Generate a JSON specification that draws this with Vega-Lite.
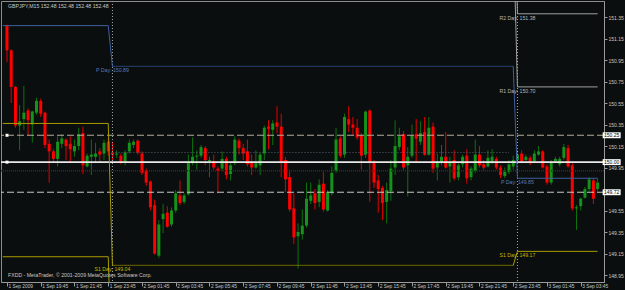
{
"$schema":"https://vega.github.io/schema/vega-lite/v6.json",
"width":603,"height":281,
"autosize":{"type":"none"},
"padding":{"left":1,"top":1,"right":21,"bottom":8},
"background":"#0a0e0e",
"resolve":{"axis":{"x":"independent","y":"independent"}},
"config":{"view":{"stroke":"#8c8c8c","strokeWidth":1},"font":"Liberation Sans","text":{"font":"Liberation Sans"},
 "axis":{"grid":false,"labelFont":"Liberation Sans","labelColor":"#c8c8c8","tickColor":"#9a9a9a","domainColor":"#9a9a9a","labelOverlap":false,"labelFlush":false},
 "axisX":{"labelAlign":"left","labelBaseline":"top","labelFontSize":4.8,"tickSize":4,"labelPadding":-3,"labelOffset":1},
 "axisY":{"labelFontSize":5,"tickSize":3,"labelPadding":1}},
"datasets":{
"candles":[
{"t":"2009-09-01T17:45","o":151.27,"h":151.28,"l":150.93,"c":151.04},
{"t":"2009-09-01T18:00","o":151.04,"h":151.05,"l":150.55,"c":150.70},
{"t":"2009-09-01T18:15","o":150.70,"h":150.71,"l":150.32,"c":150.34},
{"t":"2009-09-01T18:30","o":150.34,"h":150.53,"l":150.11,"c":150.38},
{"t":"2009-09-01T18:45","o":150.40,"h":150.71,"l":150.30,"c":150.46},
{"t":"2009-09-01T19:00","o":150.48,"h":150.50,"l":150.25,"c":150.39},
{"t":"2009-09-01T19:15","o":150.35,"h":150.48,"l":150.18,"c":150.47},
{"t":"2009-09-01T19:30","o":150.46,"h":150.60,"l":150.44,"c":150.57},
{"t":"2009-09-01T19:45","o":150.57,"h":150.59,"l":150.42,"c":150.45},
{"t":"2009-09-01T20:00","o":150.46,"h":150.47,"l":150.13,"c":150.16},
{"t":"2009-09-01T20:15","o":150.17,"h":150.21,"l":149.81,"c":150.10},
{"t":"2009-09-01T20:30","o":150.10,"h":150.12,"l":150.00,"c":150.03},
{"t":"2009-09-01T20:45","o":150.03,"h":150.24,"l":149.96,"c":150.19},
{"t":"2009-09-01T21:00","o":150.17,"h":150.26,"l":150.13,"c":150.22},
{"t":"2009-09-01T21:15","o":150.21,"h":150.22,"l":150.02,"c":150.15},
{"t":"2009-09-01T21:30","o":150.17,"h":150.24,"l":150.00,"c":150.12},
{"t":"2009-09-01T21:45","o":150.10,"h":150.21,"l":150.05,"c":150.15},
{"t":"2009-09-01T22:00","o":150.15,"h":150.32,"l":150.11,"c":150.26},
{"t":"2009-09-01T22:15","o":150.27,"h":150.33,"l":149.89,"c":149.97},
{"t":"2009-09-01T22:30","o":149.96,"h":150.08,"l":149.95,"c":150.06},
{"t":"2009-09-01T22:45","o":150.05,"h":150.21,"l":149.88,"c":150.07},
{"t":"2009-09-01T23:00","o":150.05,"h":150.18,"l":149.99,"c":150.08},
{"t":"2009-09-01T23:15","o":150.10,"h":150.13,"l":150.00,"c":150.07},
{"t":"2009-09-01T23:30","o":150.08,"h":150.21,"l":150.02,"c":150.18},
{"t":"2009-09-01T23:45","o":150.19,"h":150.22,"l":150.06,"c":150.10},
{"t":"2009-09-02T00:00","o":150.09,"h":150.19,"l":150.02,"c":150.07},
{"t":"2009-09-02T00:15","o":150.07,"h":150.11,"l":150.04,"c":150.08},
{"t":"2009-09-02T00:30","o":150.06,"h":150.08,"l":149.98,"c":150.00},
{"t":"2009-09-02T00:45","o":150.00,"h":150.11,"l":149.97,"c":150.09},
{"t":"2009-09-02T01:00","o":150.10,"h":150.21,"l":150.08,"c":150.18},
{"t":"2009-09-02T01:15","o":150.16,"h":150.21,"l":150.13,"c":150.19},
{"t":"2009-09-02T01:30","o":150.20,"h":150.21,"l":150.07,"c":150.09},
{"t":"2009-09-02T01:45","o":150.08,"h":150.10,"l":149.88,"c":149.90},
{"t":"2009-09-02T02:00","o":149.92,"h":149.94,"l":149.78,"c":149.81},
{"t":"2009-09-02T02:15","o":149.82,"h":149.83,"l":149.55,"c":149.58},
{"t":"2009-09-02T02:30","o":149.60,"h":149.65,"l":149.14,"c":149.15},
{"t":"2009-09-02T02:45","o":149.13,"h":149.46,"l":149.11,"c":149.42},
{"t":"2009-09-02T03:00","o":149.47,"h":149.61,"l":149.34,"c":149.52},
{"t":"2009-09-02T03:15","o":149.53,"h":149.59,"l":149.39,"c":149.40},
{"t":"2009-09-02T03:30","o":149.42,"h":149.58,"l":149.40,"c":149.55},
{"t":"2009-09-02T03:45","o":149.55,"h":149.74,"l":149.53,"c":149.71},
{"t":"2009-09-02T04:00","o":149.69,"h":149.83,"l":149.60,"c":149.62},
{"t":"2009-09-02T04:15","o":149.63,"h":149.71,"l":149.61,"c":149.69},
{"t":"2009-09-02T04:30","o":149.70,"h":150.07,"l":149.69,"c":149.99},
{"t":"2009-09-02T04:45","o":149.99,"h":150.23,"l":149.97,"c":150.05},
{"t":"2009-09-02T05:00","o":150.05,"h":150.11,"l":149.93,"c":150.06},
{"t":"2009-09-02T05:15","o":150.06,"h":150.16,"l":150.04,"c":150.14},
{"t":"2009-09-02T05:30","o":150.13,"h":150.15,"l":149.97,"c":150.02},
{"t":"2009-09-02T05:45","o":150.01,"h":150.05,"l":149.86,"c":150.02},
{"t":"2009-09-02T06:00","o":150.01,"h":150.07,"l":149.93,"c":149.95},
{"t":"2009-09-02T06:15","o":149.94,"h":149.96,"l":149.71,"c":149.92},
{"t":"2009-09-02T06:30","o":149.94,"h":150.10,"l":149.92,"c":150.03},
{"t":"2009-09-02T06:45","o":150.03,"h":150.05,"l":149.84,"c":149.88},
{"t":"2009-09-02T07:00","o":149.89,"h":149.99,"l":149.83,"c":149.97},
{"t":"2009-09-02T07:15","o":149.99,"h":150.24,"l":149.97,"c":150.21},
{"t":"2009-09-02T07:30","o":150.20,"h":150.22,"l":150.07,"c":150.13},
{"t":"2009-09-02T07:45","o":150.13,"h":150.17,"l":150.02,"c":150.08},
{"t":"2009-09-02T08:00","o":150.10,"h":150.21,"l":149.96,"c":149.98},
{"t":"2009-09-02T08:15","o":150.00,"h":150.07,"l":149.88,"c":149.95},
{"t":"2009-09-02T08:30","o":149.95,"h":150.11,"l":149.94,"c":149.99},
{"t":"2009-09-02T08:45","o":149.97,"h":150.09,"l":149.88,"c":150.07},
{"t":"2009-09-02T09:00","o":150.08,"h":150.34,"l":150.02,"c":150.32},
{"t":"2009-09-02T09:15","o":150.33,"h":150.39,"l":150.12,"c":150.31},
{"t":"2009-09-02T09:30","o":150.30,"h":150.39,"l":150.16,"c":150.36},
{"t":"2009-09-02T09:45","o":150.37,"h":150.52,"l":150.27,"c":150.33},
{"t":"2009-09-02T10:00","o":150.33,"h":150.45,"l":149.86,"c":150.00},
{"t":"2009-09-02T10:15","o":150.02,"h":150.05,"l":149.72,"c":149.84},
{"t":"2009-09-02T10:30","o":149.86,"h":149.93,"l":149.54,"c":149.56},
{"t":"2009-09-02T10:45","o":149.57,"h":149.71,"l":149.24,"c":149.30},
{"t":"2009-09-02T11:00","o":149.31,"h":149.43,"l":149.01,"c":149.35},
{"t":"2009-09-02T11:15","o":149.33,"h":149.56,"l":149.28,"c":149.41},
{"t":"2009-09-02T11:30","o":149.41,"h":149.81,"l":149.39,"c":149.66},
{"t":"2009-09-02T11:45","o":149.64,"h":149.81,"l":149.61,"c":149.69},
{"t":"2009-09-02T12:00","o":149.71,"h":149.75,"l":149.56,"c":149.62},
{"t":"2009-09-02T12:15","o":149.63,"h":149.84,"l":149.58,"c":149.79},
{"t":"2009-09-02T12:30","o":149.80,"h":149.91,"l":149.54,"c":149.56},
{"t":"2009-09-02T12:45","o":149.55,"h":149.74,"l":149.54,"c":149.72},
{"t":"2009-09-02T13:00","o":149.71,"h":149.96,"l":149.69,"c":149.90},
{"t":"2009-09-02T13:15","o":149.92,"h":150.32,"l":149.90,"c":150.21},
{"t":"2009-09-02T13:30","o":150.22,"h":150.24,"l":150.04,"c":150.06},
{"t":"2009-09-02T13:45","o":150.07,"h":150.45,"l":150.04,"c":150.42},
{"t":"2009-09-02T14:00","o":150.40,"h":150.52,"l":150.28,"c":150.35},
{"t":"2009-09-02T14:15","o":150.35,"h":150.42,"l":150.25,"c":150.32},
{"t":"2009-09-02T14:30","o":150.32,"h":150.40,"l":150.21,"c":150.23},
{"t":"2009-09-02T14:45","o":150.25,"h":150.27,"l":149.93,"c":150.06},
{"t":"2009-09-02T15:00","o":150.07,"h":150.48,"l":150.04,"c":150.47},
{"t":"2009-09-02T15:15","o":150.48,"h":150.49,"l":149.63,"c":150.00},
{"t":"2009-09-02T15:30","o":150.00,"h":150.02,"l":149.76,"c":149.81},
{"t":"2009-09-02T15:45","o":149.83,"h":149.88,"l":149.53,"c":149.75},
{"t":"2009-09-02T16:00","o":149.76,"h":149.78,"l":149.46,"c":149.62},
{"t":"2009-09-02T16:15","o":149.63,"h":149.81,"l":149.43,"c":149.74},
{"t":"2009-09-02T16:30","o":149.73,"h":150.02,"l":149.64,"c":149.94},
{"t":"2009-09-02T16:45","o":149.95,"h":150.39,"l":149.88,"c":150.15},
{"t":"2009-09-02T17:00","o":150.14,"h":150.32,"l":150.11,"c":150.24},
{"t":"2009-09-02T17:15","o":150.26,"h":150.29,"l":149.93,"c":149.95},
{"t":"2009-09-02T17:30","o":149.97,"h":150.14,"l":149.68,"c":150.05},
{"t":"2009-09-02T17:45","o":150.06,"h":150.35,"l":150.04,"c":150.25},
{"t":"2009-09-02T18:00","o":150.26,"h":150.40,"l":150.00,"c":150.22},
{"t":"2009-09-02T18:15","o":150.19,"h":150.38,"l":150.16,"c":150.27},
{"t":"2009-09-02T18:30","o":150.28,"h":150.42,"l":150.06,"c":150.07},
{"t":"2009-09-02T18:45","o":150.07,"h":150.42,"l":150.06,"c":150.32},
{"t":"2009-09-02T19:00","o":150.33,"h":150.37,"l":149.90,"c":149.94},
{"t":"2009-09-02T19:15","o":149.95,"h":150.08,"l":149.83,"c":150.01},
{"t":"2009-09-02T19:30","o":150.00,"h":150.16,"l":149.97,"c":150.05},
{"t":"2009-09-02T19:45","o":150.05,"h":150.28,"l":149.94,"c":149.95},
{"t":"2009-09-02T20:00","o":149.96,"h":150.05,"l":149.81,"c":150.00},
{"t":"2009-09-02T20:15","o":150.02,"h":150.11,"l":149.83,"c":149.85},
{"t":"2009-09-02T20:30","o":149.86,"h":149.99,"l":149.83,"c":149.97},
{"t":"2009-09-02T20:45","o":149.98,"h":150.07,"l":149.95,"c":150.05},
{"t":"2009-09-02T21:00","o":150.06,"h":150.12,"l":149.80,"c":149.85},
{"t":"2009-09-02T21:15","o":149.86,"h":149.96,"l":149.83,"c":149.94},
{"t":"2009-09-02T21:30","o":149.92,"h":150.21,"l":149.90,"c":150.07},
{"t":"2009-09-02T21:45","o":150.07,"h":150.15,"l":149.95,"c":149.97},
{"t":"2009-09-02T22:00","o":149.98,"h":150.02,"l":149.93,"c":149.95},
{"t":"2009-09-02T22:15","o":149.96,"h":150.11,"l":149.95,"c":150.04},
{"t":"2009-09-02T22:30","o":150.00,"h":150.12,"l":149.98,"c":150.05},
{"t":"2009-09-02T22:45","o":150.03,"h":150.05,"l":149.93,"c":149.95},
{"t":"2009-09-02T23:00","o":149.95,"h":149.97,"l":149.85,"c":149.88},
{"t":"2009-09-02T23:15","o":149.87,"h":149.95,"l":149.85,"c":149.91},
{"t":"2009-09-02T23:30","o":149.91,"h":150.02,"l":149.89,"c":149.98},
{"t":"2009-09-02T23:45","o":149.96,"h":150.06,"l":149.93,"c":150.02},
{"t":"2009-09-03T00:00","o":150.02,"h":150.11,"l":150.00,"c":150.07},
{"t":"2009-09-03T00:15","o":150.08,"h":150.11,"l":149.99,"c":150.01},
{"t":"2009-09-03T00:30","o":150.02,"h":150.07,"l":149.99,"c":150.05},
{"t":"2009-09-03T00:45","o":150.04,"h":150.06,"l":149.97,"c":149.99},
{"t":"2009-09-03T01:00","o":150.01,"h":150.11,"l":149.99,"c":150.08},
{"t":"2009-09-03T01:15","o":150.07,"h":150.15,"l":150.06,"c":150.10},
{"t":"2009-09-03T01:30","o":150.10,"h":150.11,"l":149.94,"c":149.95},
{"t":"2009-09-03T01:45","o":149.96,"h":149.98,"l":149.79,"c":149.81},
{"t":"2009-09-03T02:00","o":149.81,"h":150.02,"l":149.79,"c":150.00},
{"t":"2009-09-03T02:15","o":150.01,"h":150.05,"l":149.99,"c":150.03},
{"t":"2009-09-03T02:30","o":149.98,"h":150.05,"l":149.96,"c":150.03},
{"t":"2009-09-03T02:45","o":150.04,"h":150.17,"l":150.02,"c":150.14},
{"t":"2009-09-03T03:00","o":150.13,"h":150.16,"l":149.95,"c":149.96},
{"t":"2009-09-03T03:15","o":149.97,"h":149.99,"l":149.55,"c":149.57},
{"t":"2009-09-03T03:30","o":149.57,"h":149.60,"l":149.37,"c":149.58},
{"t":"2009-09-03T03:45","o":149.59,"h":149.67,"l":149.55,"c":149.66},
{"t":"2009-09-03T04:00","o":149.67,"h":149.77,"l":149.66,"c":149.75},
{"t":"2009-09-03T04:15","o":149.75,"h":149.86,"l":149.73,"c":149.84},
{"t":"2009-09-03T04:30","o":149.83,"h":149.85,"l":149.61,"c":149.66},
{"t":"2009-09-03T04:45","o":149.75,"h":149.85,"l":149.73,"c":149.81}
],
"piv":[
{"s":"P1","t":"2009-09-01T17:30","v":151.27},{"s":"P1","t":"2009-09-01T23:45","v":151.27},{"s":"P1","t":"2009-09-02T00:00","v":150.89},
{"s":"P2","t":"2009-09-02T00:00","v":150.89},{"s":"P2","t":"2009-09-02T23:45","v":150.89},
{"s":"P3","t":"2009-09-02T23:45","v":150.89},{"s":"P3","t":"2009-09-03T00:00","v":149.85},{"s":"P3","t":"2009-09-03T04:45","v":149.85},
{"s":"S1a","t":"2009-09-01T17:30","v":150.36},{"s":"S1a","t":"2009-09-01T23:45","v":150.36},{"s":"S1a","t":"2009-09-02T00:00","v":149.04},
{"s":"S1b","t":"2009-09-02T00:00","v":149.04},{"s":"S1b","t":"2009-09-02T23:45","v":149.04},
{"s":"S1c","t":"2009-09-02T23:45","v":149.04},{"s":"S1c","t":"2009-09-03T00:00","v":149.17},{"s":"S1c","t":"2009-09-03T04:45","v":149.17},
{"s":"S2","t":"2009-09-01T17:30","v":149.12},{"s":"S2","t":"2009-09-01T23:45","v":149.12},{"s":"S2","t":"2009-09-02T00:00","v":147.90},
{"s":"R1","t":"2009-09-02T23:45","v":152.20},{"s":"R1","t":"2009-09-03T00:00","v":150.70},{"s":"R1","t":"2009-09-03T04:45","v":150.70},
{"s":"R2","t":"2009-09-02T23:45","v":153.10},{"s":"R2","t":"2009-09-03T00:00","v":151.38},{"s":"R2","t":"2009-09-03T04:45","v":151.38},
{"s":"M","t":"2009-09-02T00:00","v":150.09},{"s":"M","t":"2009-09-02T23:30","v":150.09}
],
"plabels":[
{"t":"2009-09-02T00:00","v":150.89,"txt":"P Day: 150.89","k":"P"},
{"t":"2009-09-02T00:00","v":149.04,"txt":"S1 Day: 149.04","k":"S"},
{"t":"2009-09-03T00:00","v":151.38,"txt":"R2 Day: 151.38","k":"R"},
{"t":"2009-09-03T00:00","v":150.70,"txt":"R1 Day: 150.70","k":"R"},
{"t":"2009-09-03T00:00","v":149.85,"txt":"P Day: 149.85","k":"P"},
{"t":"2009-09-03T00:00","v":149.17,"txt":"S1 Day: 149.17","k":"S"}
],
"hl":[{"v":150.25,"txt":"150.25"},{"v":150.00,"txt":"150.00"},{"v":149.72,"txt":"149.72"}],
"seps":[{"t":"2009-09-02T00:00"},{"t":"2009-09-03T00:00"}]
},
"layer":[
{"data":{"name":"candles"},
 "mark":{"type":"rule","strokeWidth":1,"clip":true},
 "encoding":{"x":{"field":"t","type":"temporal","title":null,
   "scale":{"domain":[{"year":2009,"month":9,"date":1,"hours":17,"minutes":41,"seconds":30},{"year":2009,"month":9,"date":3,"hours":4,"minutes":50}]},
   "axis":{"orient":"bottom","title":null,"labelOverlap":false,"labelFlush":false,
     "values":[{"year":2009,"month":9,"date":1,"hours":17,"minutes":45},{"year":2009,"month":9,"date":1,"hours":19,"minutes":45},{"year":2009,"month":9,"date":1,"hours":21,"minutes":45},{"year":2009,"month":9,"date":1,"hours":23,"minutes":45},{"year":2009,"month":9,"date":2,"hours":1,"minutes":45},{"year":2009,"month":9,"date":2,"hours":3,"minutes":45},{"year":2009,"month":9,"date":2,"hours":5,"minutes":45},{"year":2009,"month":9,"date":2,"hours":7,"minutes":45},{"year":2009,"month":9,"date":2,"hours":9,"minutes":45},{"year":2009,"month":9,"date":2,"hours":11,"minutes":45},{"year":2009,"month":9,"date":2,"hours":13,"minutes":45},{"year":2009,"month":9,"date":2,"hours":15,"minutes":45},{"year":2009,"month":9,"date":2,"hours":17,"minutes":45},{"year":2009,"month":9,"date":2,"hours":19,"minutes":45},{"year":2009,"month":9,"date":2,"hours":21,"minutes":45},{"year":2009,"month":9,"date":2,"hours":23,"minutes":45},{"year":2009,"month":9,"date":3,"hours":1,"minutes":45},{"year":2009,"month":9,"date":3,"hours":3,"minutes":45}],
     "labelExpr":"date(datum.value)==1 && hours(datum.value)==17 ? '1 Sep 2009' : timeFormat(datum.value, '%-d %b %H:%M')"}},
  "y":{"field":"l","type":"quantitative","title":null,"scale":{"domain":[148.885,151.499],"nice":false,"zero":false},
      "axis":{"orient":"right","title":null,"labelOverlap":false,"labelFlush":false,"values":[151.35,151.15,150.95,150.75,150.55,150.35,150.15,149.95,149.55,149.35,149.15,148.95],"format":".2f"}},
  "y2":{"field":"h"},
  "color":{"condition":{"test":"datum.o > datum.c","value":"#e00000"},"value":"#0d720d"}}},
{"data":{"name":"candles"},
 "mark":{"type":"bar","size":3,"clip":true},
 "encoding":{"x":{"field":"t","type":"temporal","axis":null},"y":{"field":"o","type":"quantitative","axis":null},"y2":{"field":"c"},
   "color":{"condition":{"test":"datum.o > datum.c","value":"#ff0000"},"value":"#14921a"}}},
{"data":{"name":"seps"},"mark":{"type":"rule","color":"#a8a8a8","strokeDash":[1,2],"strokeWidth":1},
 "encoding":{"x":{"field":"t","type":"temporal","axis":null}}},
{"data":{"values":[{}]},"mark":{"type":"rule","color":"#b4ab98","strokeDash":[7,3],"strokeWidth":1},
 "encoding":{"y":{"datum":150.25,"type":"quantitative","axis":null}}},
{"data":{"values":[{}]},"mark":{"type":"rule","color":"#c8c8c8","strokeDash":[7,3],"strokeWidth":1},
 "encoding":{"y":{"datum":149.72,"type":"quantitative","axis":null}}},
{"data":{"values":[{}]},"mark":{"type":"rule","color":"#a00000","strokeDash":[1,1],"strokeWidth":1.5},
 "encoding":{"y":{"datum":149.92,"type":"quantitative","axis":null}}},
{"data":{"values":[{}]},"mark":{"type":"rule","color":"#e8e8e8","strokeWidth":1.6},
 "encoding":{"y":{"datum":150.00,"type":"quantitative","axis":null}}},
{"data":{"name":"piv"},"transform":[{"filter":"datum.s=='M'"}],
 "mark":{"type":"line","color":"#5a6470","strokeDash":[1,2],"strokeWidth":1,"clip":true},
 "encoding":{"x":{"field":"t","type":"temporal","axis":null},"y":{"field":"v","type":"quantitative","axis":null}}},
{"data":{"name":"piv"},"transform":[{"filter":"datum.s=='P1' || datum.s=='P3'"}],
 "mark":{"type":"line","color":"#3f5f9f","strokeWidth":1,"clip":true},
 "encoding":{"x":{"field":"t","type":"temporal","axis":null},"y":{"field":"v","type":"quantitative","axis":null},"detail":{"field":"s"}}},
{"data":{"name":"piv"},"transform":[{"filter":"datum.s=='P2'"}],
 "mark":{"type":"line","color":"#3f5f9f","strokeDash":[1,1],"strokeWidth":1.2,"clip":true},
 "encoding":{"x":{"field":"t","type":"temporal","axis":null},"y":{"field":"v","type":"quantitative","axis":null}}},
{"data":{"name":"piv"},"transform":[{"filter":"datum.s=='S1a' || datum.s=='S1c' || datum.s=='S2'"}],
 "mark":{"type":"line","color":"#a89c00","strokeWidth":1,"clip":true},
 "encoding":{"x":{"field":"t","type":"temporal","axis":null},"y":{"field":"v","type":"quantitative","axis":null},"detail":{"field":"s"}}},
{"data":{"name":"piv"},"transform":[{"filter":"datum.s=='S1b'"}],
 "mark":{"type":"line","color":"#a89c00","strokeDash":[1,1],"strokeWidth":1.2,"clip":true},
 "encoding":{"x":{"field":"t","type":"temporal","axis":null},"y":{"field":"v","type":"quantitative","axis":null}}},
{"data":{"name":"piv"},"transform":[{"filter":"datum.s=='R1' || datum.s=='R2'"}],
 "mark":{"type":"line","color":"#a0a0a0","strokeWidth":1,"clip":true},
 "encoding":{"x":{"field":"t","type":"temporal","axis":null},"y":{"field":"v","type":"quantitative","axis":null},"detail":{"field":"s"}}},
{"data":{"name":"plabels"},"mark":{"type":"text","fontSize":5.2,"align":"center","baseline":"middle","dy":4},
 "encoding":{"x":{"field":"t","type":"temporal","axis":null},"y":{"field":"v","type":"quantitative","axis":null},"text":{"field":"txt"},
  "color":{"field":"k","type":"nominal","scale":{"domain":["P","S","R"],"range":["#5a7ab8","#c8b400","#b8b8b8"]},"legend":null}}},
{"data":{"name":"hl"},"transform":[{"filter":"datum.v > 149.9"}],"mark":{"type":"square","size":9,"color":"#ffffff","opacity":1},
 "encoding":{"x":{"datum":{"year":2009,"month":9,"date":1,"hours":17,"minutes":45},"type":"temporal","axis":null},"y":{"field":"v","type":"quantitative","axis":null}}},
{"data":{"name":"hl"},"mark":{"type":"point","shape":"M-1,-0.33H1V0.33H-1Z","size":324,"filled":true,"color":"#ffffff","opacity":1,"strokeWidth":0},
 "encoding":{"x":{"datum":{"year":2009,"month":9,"date":3,"hours":5,"minutes":35},"type":"temporal","axis":null},"y":{"field":"v","type":"quantitative","axis":null}}},
{"data":{"name":"hl"},"mark":{"type":"text","color":"#000000","fontSize":5,"align":"center","baseline":"middle"},
 "encoding":{"x":{"datum":{"year":2009,"month":9,"date":3,"hours":5,"minutes":35},"type":"temporal","axis":null},"y":{"field":"v","type":"quantitative","axis":null},"text":{"field":"txt"}}},
{"data":{"values":[{}]},"mark":{"type":"text","color":"#c8c8c8","fontSize":5.2,"align":"left","baseline":"middle","dx":2},
 "encoding":{"x":{"datum":{"year":2009,"month":9,"date":1,"hours":17,"minutes":41,"seconds":30},"type":"temporal","axis":null},"y":{"datum":151.45,"type":"quantitative","axis":null},"text":{"value":"GBPJPY,M15  152.48 152.48 152.48 152.48"}}},
{"data":{"values":[{}]},"mark":{"type":"text","color":"#c8c8c8","fontSize":5.2,"align":"left","baseline":"middle","dx":2},
 "encoding":{"x":{"datum":{"year":2009,"month":9,"date":1,"hours":17,"minutes":41,"seconds":30},"type":"temporal","axis":null},"y":{"datum":148.95,"type":"quantitative","axis":null},"text":{"value":"FXDD - MetaTrader, © 2001-2009 MetaQuotes Software Corp."}}}
]
}
